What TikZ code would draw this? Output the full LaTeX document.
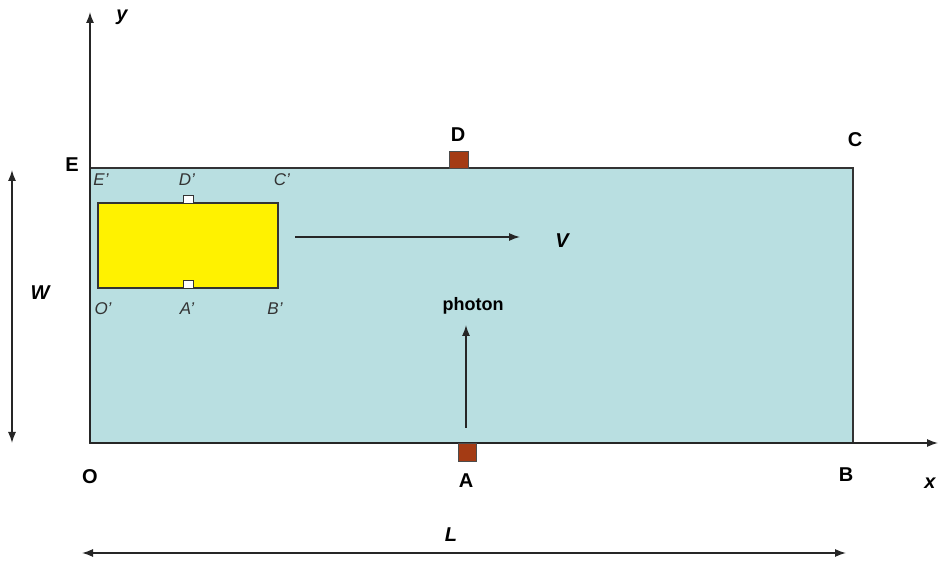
\documentclass[tikz,border=0pt]{standalone}
\usepackage{fontspec}
\setmainfont{Liberation Sans}
\usetikzlibrary{arrows.meta}
\definecolor{tank}{HTML}{B9DFE1}
\definecolor{brick}{HTML}{A43B14}
\definecolor{edge}{HTML}{333333}
\begin{document}
\begin{tikzpicture}[x=1pt,y=-1pt,
  lbl/.style={font=\fontsize{20}{20}\selectfont\bfseries, inner sep=0pt},
  ilbl/.style={font=\fontsize{20}{20}\selectfont\bfseries\itshape, inner sep=0pt},
  plbl/.style={font=\fontsize{17}{17}\selectfont\itshape, text=edge, inner sep=0pt},
  arr/.style={-{Latex[length=11pt,width=8pt]}, line width=1.3pt, draw=black!85},
  darr/.style={{Latex[length=11pt,width=8pt]}-{Latex[length=11pt,width=8pt]}, line width=1.3pt, draw=black!85},
  sq/.style={fill=brick, draw=black!70, line width=0.8pt}]
\useasboundingbox (0,0) rectangle (938,561);
% tank
\draw[fill=tank, draw=edge, line width=1.2pt] (90,168) rectangle (853,443);
% axes
\coordinate (orig) at (90,443);
\coordinate (ytip) at (90,12);
\coordinate (xtip) at (938,443);
\draw[arr] (orig) -- (ytip);
\draw[arr] (orig) -- (xtip);
% detectors
\draw[sq] (449,151) rectangle (468,168);
\draw[sq] (458,443) rectangle (476,461);
% moving box
\draw[fill=yellow, draw=edge, line width=1.2pt] (98,203) rectangle (278,288);
\draw[fill=white, draw=edge, line width=0.9pt] (183,195) rectangle (193,203);
\draw[fill=white, draw=edge, line width=0.9pt] (183,280) rectangle (193,288);
% labels
\node[ilbl] (ylab) at (122,17) {y};
\node[ilbl] (xlab) at (930,483) {x};
\node[lbl] (E) at (72,165) {E};
\node[lbl] (O) at (90,477) {O};
\node[lbl] (A) at (466,481) {A};
\node[lbl] (B) at (846,475) {B};
\node[lbl] (C) at (855,140) {C};
\node[lbl] (D) at (458,135) {D};
\node[plbl] (Ep) at (101,180) {E'};
\node[plbl] (Dp) at (187,180) {D'};
\node[plbl] (Cp) at (282,180) {C'};
\node[plbl] (Op) at (103,309) {O'};
\node[plbl] (Ap) at (187,309) {A'};
\node[plbl] (Bp) at (275,309) {B'};
% velocity
\coordinate (vs) at (295,237);
\coordinate (ve) at (520,237);
\draw[arr] (vs) -- (ve);
\node[ilbl] (V) at (562,241) {V};
% photon
\node[font=\fontsize{18}{18}\selectfont\bfseries, inner sep=0pt] (ph) at (473,306) {photon};
\coordinate (ps) at (466,428);
\coordinate (pe) at (466,325);
\draw[arr] (ps) -- (pe);
% W
\coordinate (wt) at (12,170);
\coordinate (wb) at (12,443);
\draw[darr] (wt) -- (wb);
\node[ilbl] (W) at (40,293) {W};
% L
\coordinate (ll) at (82,553);
\coordinate (lr) at (846,553);
\draw[darr] (ll) -- (lr);
\node[ilbl] (L) at (451,535) {L};
\end{tikzpicture}
\end{document}
